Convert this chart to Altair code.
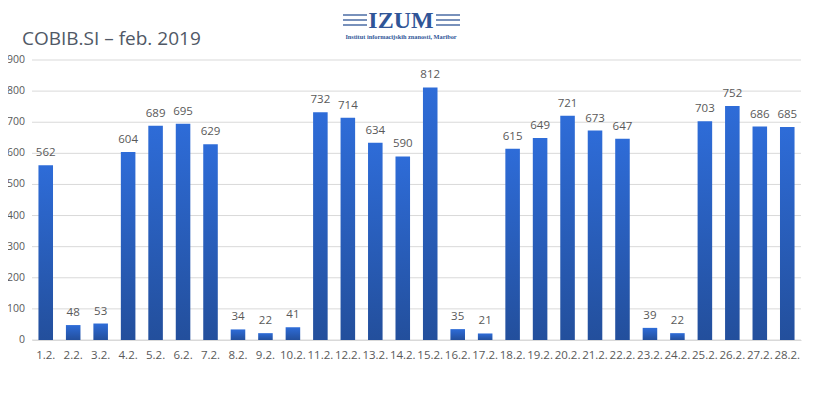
import altair as alt
import pandas as pd

days = ["1.2.", "2.2.", "3.2.", "4.2.", "5.2.", "6.2.", "7.2.", "8.2.", "9.2.", "10.2.",
        "11.2.", "12.2.", "13.2.", "14.2.", "15.2.", "16.2.", "17.2.", "18.2.", "19.2.", "20.2.",
        "21.2.", "22.2.", "23.2.", "24.2.", "25.2.", "26.2.", "27.2.", "28.2."]
values = [562, 48, 53, 604, 689, 695, 629, 34, 22, 41,
          732, 714, 634, 590, 812, 35, 21, 615, 649, 721,
          673, 647, 39, 22, 703, 752, 686, 685]
y_ticks = [0, 100, 200, 300, 400, 500, 600, 700, 800, 900]

title_text = "COBIB.SI – feb. 2019"
logo_text = "IZUM"
logo_sub = "Institut informacijskih znanosti, Maribor"

df = pd.DataFrame({"day": days, "value": values})
tick_df = pd.DataFrame({"tick": y_ticks})

y_scale = alt.Scale(domain=[0, 900], nice=False)
x_enc = alt.X("day:N", sort=days,
              scale=alt.Scale(paddingInner=0.47, paddingOuter=0.235),
              axis=alt.Axis(title=None, labelAngle=0, labelPadding=9, ticks=False,
                            domainColor="#d9d9d9", labelColor="#595959",
                            labelFontSize=11.5, labelFont="Open Sans"))

# gridlines and y labels drawn from tick values through the y scale
grid = alt.Chart(tick_df).mark_rule(color="#d9d9d9", strokeWidth=1).encode(
    y=alt.Y("tick:Q", scale=y_scale, axis=None),
    x=alt.value(0), x2=alt.value(769))
ylab = alt.Chart(tick_df).mark_text(align="right", baseline="middle", fontSize=10.5,
                                    font="Open Sans", color="#595959").encode(
    y=alt.Y("tick:Q", scale=y_scale, axis=None),
    x=alt.value(-7), text="tick:Q")

grad = alt.LinearGradient(
    gradient="linear",
    stops=[alt.GradientStop(color="#2E6CD8", offset=0),
           alt.GradientStop(color="#234F9C", offset=1)],
    x1=0, x2=0, y1=0, y2=1)

bars = alt.Chart(df).mark_bar(color=grad).encode(
    x=x_enc, y=alt.Y("value:Q", scale=y_scale, axis=None))

labels = alt.Chart(df).mark_text(baseline="bottom", dy=-7, fontSize=11.5,
                                 font="Open Sans", color="#595959").encode(
    x=x_enc, y=alt.Y("value:Q", scale=y_scale, axis=None), text="value:Q")

one = pd.DataFrame({"t": [title_text]})
title = alt.Chart(one).mark_text(align="left", baseline="alphabetic", fontSize=19,
                                 font="Open Sans", color="#505866").encode(
    x=alt.value(-10), y=alt.value(-15), text="t:N")

logo_df = pd.DataFrame({"t": [logo_text]})
logo = alt.Chart(logo_df).mark_text(align="center", baseline="alphabetic", fontSize=24,
                                    font="Liberation Serif", fontWeight="bold",
                                    color="#2F5597").encode(
    x=alt.value(369), y=alt.value(-32), text="t:N")

sub_df = pd.DataFrame({"t": [logo_sub]})
logo_s = alt.Chart(sub_df).mark_text(align="center", baseline="alphabetic", fontSize=6.3,
                                     font="Liberation Serif", fontWeight="bold",
                                     color="#2F5597").encode(
    x=alt.value(369), y=alt.value(-21.5), text="t:N")

rule_df = pd.DataFrame({"k": [0]})
rules = []
for (xa, xb) in [(311, 335), (404, 428)]:
    for yy in [-45, -40, -35]:
        rules.append(alt.Chart(rule_df).mark_rule(color="#2F5597", strokeWidth=1.3).encode(
            x=alt.value(xa), x2=alt.value(xb), y=alt.value(yy)))

chart = alt.layer(grid, ylab, bars, labels, title, logo, logo_s, *rules).properties(
    width=769, height=280,
    padding={"left": 24, "top": 52, "right": 4, "bottom": 44},
    autosize=alt.AutoSizeParams(type="none"),
    background="white",
).configure_view(stroke=None)

chart.save("out.html", embed_options={"renderer": "svg", "actions": False})
